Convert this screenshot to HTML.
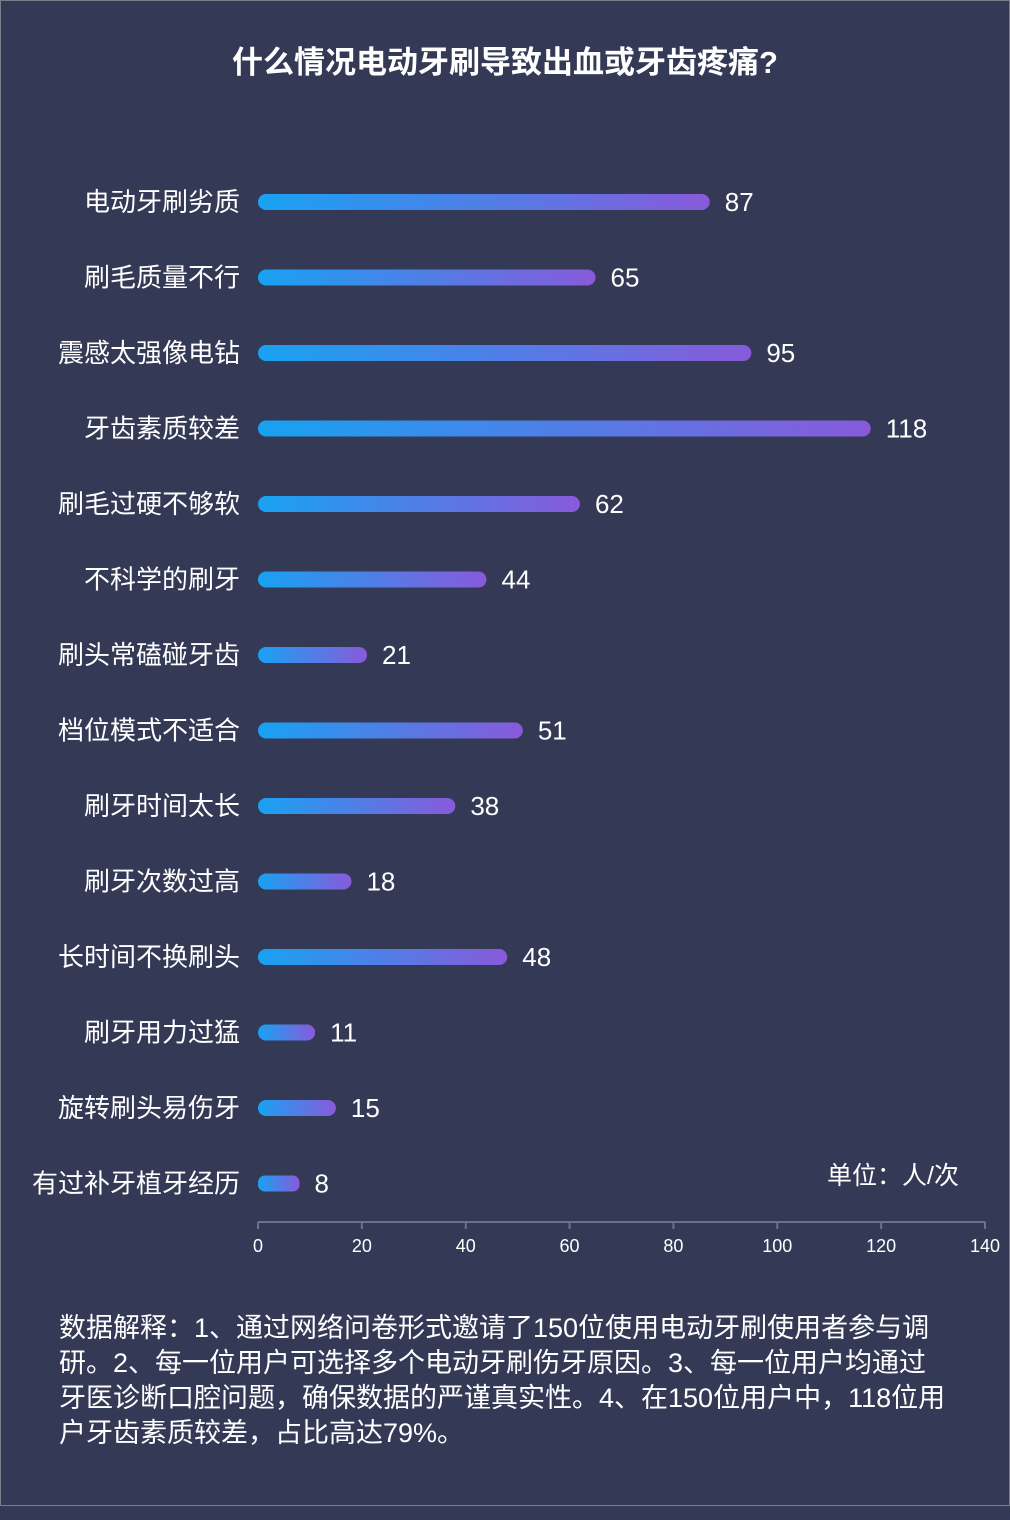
<!DOCTYPE html>
<html><head><meta charset="utf-8">
<style>
html,body{margin:0;padding:0;background:#343956;}
#wrap{position:relative;width:1008px;height:1504px;border:1px solid #7a7d8c;background:#343956;overflow:hidden;font-family:"Liberation Sans","Noto Sans CJK SC",sans-serif;color:#fff;}
#title{position:absolute;top:36px;left:0;width:1008px;text-align:center;font-size:31px;font-weight:bold;}
#note{position:absolute;left:58px;top:1310px;width:890px;font-size:27px;line-height:35px;}
svg{position:absolute;left:0;top:0;}
</style></head><body>
<div id="wrap">
<div id="title">什么情况电动牙刷导致出血或牙齿疼痛?</div>
<svg id="chart" width="1008" height="1300">
<defs><linearGradient id="g" x1="0" x2="1" y1="0" y2="0"><stop offset="0" stop-color="#18a2f2"/><stop offset="1" stop-color="#885ada"/></linearGradient></defs>
<text x="958" y="1183" font-size="25" fill="#fff" text-anchor="end">单位：人/次</text>
</svg>
<div id="note">数据解释：1、通过网络问卷形式邀请了150位使用电动牙刷使用者参与调研。2、每一位用户可选择多个电动牙刷伤牙原因。3、每一位用户均通过牙医诊断口腔问题，确保数据的严谨真实性。4、在150位用户中，118位用户牙齿素质较差，占比高达79%。</div>
</div>
<script>
const categories = ["电动牙刷劣质","刷毛质量不行","震感太强像电钻","牙齿素质较差","刷毛过硬不够软","不科学的刷牙","刷头常磕碰牙齿","档位模式不适合","刷牙时间太长","刷牙次数过高","长时间不换刷头","刷牙用力过猛","旋转刷头易伤牙","有过补牙植牙经历"];
const values = [87,65,95,118,62,44,21,51,38,18,48,11,15,8];
const ticks = [0,20,40,60,80,100,120,140];
const svg = document.getElementById('chart');
const NS = 'http://www.w3.org/2000/svg';
const x0 = 257, x1 = 984, xmax = 140, axisY = 1221;
const rowTop = 201, rowStep = 75.5;
function xs(v){ return x0 + v / xmax * (x1 - x0); }
function ys(i){ return rowTop + i * rowStep; }
function mk(tag, attrs){ const e = document.createElementNS(NS, tag); for (const k in attrs) e.setAttribute(k, attrs[k]); svg.appendChild(e); return e; }
categories.forEach((c, i) => {
  const y = ys(i);
  const lab = mk('text', {x: 239, y: y + 9, 'font-size': 26, fill: '#fff', 'text-anchor': 'end'});
  lab.textContent = c;
  
  
  const w = xs(values[i]) - x0;
  const r = Math.min(8, w / 6);
  const bar = mk('rect', {x: x0, y: y - 8, width: w, height: 16, rx: r, ry: r, fill: 'url(#g)'});
  
  
  const vl = mk('text', {x: xs(values[i]) + 15, y: y + 9, 'font-size': 26, fill: '#fff'});
  vl.textContent = values[i];
  
  
});
const ax = mk('line', {x1: x0, x2: x1, y1: axisY, y2: axisY, stroke: '#6e7187', 'stroke-width': 2});


ticks.forEach(t => {
  const tk = mk('line', {x1: xs(t), x2: xs(t), y1: axisY, y2: axisY + 7, stroke: '#6e7187', 'stroke-width': 2});
  
  
  const tl = mk('text', {x: xs(t), y: axisY + 30, 'font-size': 18, fill: '#fff', 'text-anchor': 'middle'});
  tl.textContent = t;
  
  
});
</script>
</body></html>
